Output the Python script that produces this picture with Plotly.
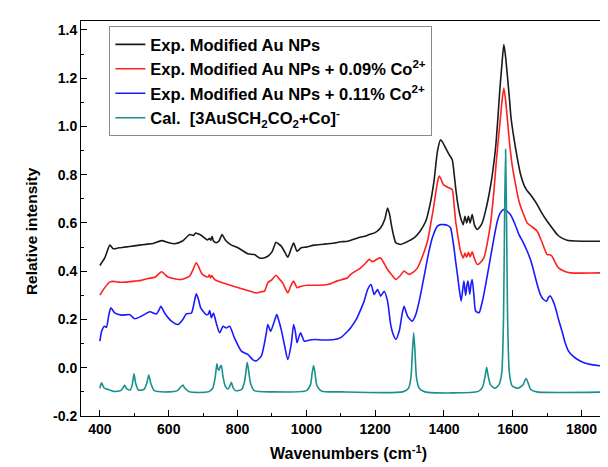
import plotly.graph_objects as go

# ---------------- data ----------------
wn_black = [400, 414, 429, 439, 455, 472, 500, 530, 555, 579, 600, 617, 640, 661, 672, 678, 685, 695, 704, 712,
            719, 722, 726, 730, 738, 746, 755, 761, 767, 780, 801, 815, 830, 849, 864, 876, 888, 900, 912, 920,
            927, 937, 946, 955, 963, 973, 985, 1000, 1023, 1050, 1081, 1100, 1120, 1149, 1170, 1183, 1200, 1216,
            1228, 1236, 1242, 1247, 1254, 1260, 1274, 1290, 1313, 1330, 1347, 1360, 1371, 1381, 1390, 1396, 1402,
            1415, 1424, 1429, 1434, 1440, 1446, 1452, 1456, 1461, 1466, 1471, 1476, 1482, 1489, 1497, 1505, 1511,
            1520, 1531, 1541, 1550, 1556, 1562, 1568, 1574, 1579, 1584, 1590, 1595, 1604, 1613, 1622, 1632, 1641,
            1651, 1661, 1671, 1685, 1700, 1715, 1729, 1743, 1758, 1780, 1816, 1860, 1900]
int_black = [0.424, 0.455, 0.508, 0.493, 0.497, 0.500, 0.505, 0.511, 0.515, 0.527, 0.518, 0.514, 0.525, 0.552,
             0.548, 0.558, 0.555, 0.548, 0.538, 0.530, 0.536, 0.528, 0.545, 0.525, 0.518, 0.525, 0.552, 0.538,
             0.525, 0.510, 0.497, 0.485, 0.472, 0.469, 0.455, 0.455, 0.462, 0.480, 0.520, 0.512, 0.504, 0.480,
             0.458, 0.490, 0.517, 0.483, 0.497, 0.500, 0.508, 0.512, 0.517, 0.522, 0.524, 0.538, 0.545, 0.552,
             0.560, 0.580, 0.615, 0.662, 0.635, 0.593, 0.545, 0.518, 0.511, 0.520, 0.538, 0.565, 0.607, 0.680,
             0.773, 0.897, 0.945, 0.935, 0.918, 0.883, 0.862, 0.810, 0.745, 0.680, 0.635, 0.605, 0.593, 0.628,
             0.600, 0.628, 0.600, 0.635, 0.590, 0.573, 0.585, 0.600, 0.645, 0.718, 0.805, 0.911, 1.020, 1.145,
             1.250, 1.339, 1.290, 1.215, 1.120, 1.035, 0.945, 0.870, 0.805, 0.759, 0.735, 0.718, 0.698, 0.676,
             0.640, 0.607, 0.578, 0.552, 0.537, 0.528, 0.525, 0.524, 0.524, 0.524]

wn_red = [400, 414, 429, 440, 453, 475, 501, 520, 540, 560, 579, 590, 598, 620, 637, 650, 661, 670, 680, 687,
          695, 705, 714, 718, 721, 725, 733, 750, 772, 795, 820, 840, 854, 870, 878, 888, 900, 912, 920, 931,
          940, 946, 955, 963, 973, 985, 1004, 1030, 1062, 1090, 1120, 1129, 1158, 1170, 1183, 1190, 1197, 1205,
          1216, 1226, 1236, 1248, 1260, 1272, 1284, 1292, 1299, 1310, 1323, 1337, 1352, 1362, 1371, 1380, 1386,
          1392, 1398, 1406, 1415, 1424, 1429, 1434, 1440, 1446, 1451, 1456, 1461, 1466, 1471, 1476, 1482, 1489,
          1497, 1505, 1516, 1525, 1535, 1545, 1553, 1559, 1564, 1569, 1574, 1579, 1584, 1590, 1598, 1608, 1618,
          1630, 1642, 1655, 1671, 1685, 1700, 1708, 1714, 1722, 1733, 1750, 1767, 1800, 1850, 1900]
int_red = [0.301, 0.332, 0.356, 0.358, 0.355, 0.355, 0.359, 0.362, 0.370, 0.375, 0.398, 0.385, 0.376, 0.368,
           0.366, 0.372, 0.380, 0.405, 0.435, 0.418, 0.393, 0.380, 0.376, 0.385, 0.372, 0.382, 0.366, 0.355,
           0.345, 0.335, 0.324, 0.316, 0.310, 0.315, 0.317, 0.352, 0.365, 0.383, 0.370, 0.352, 0.325, 0.310,
           0.340, 0.359, 0.332, 0.338, 0.342, 0.342, 0.345, 0.360, 0.373, 0.387, 0.414, 0.430, 0.449, 0.440,
           0.442, 0.450, 0.455, 0.432, 0.407, 0.385, 0.366, 0.380, 0.401, 0.392, 0.387, 0.395, 0.414, 0.460,
           0.524, 0.600, 0.676, 0.760, 0.794, 0.780, 0.759, 0.752, 0.745, 0.738, 0.680, 0.607, 0.550, 0.497,
           0.470, 0.455, 0.475, 0.458, 0.478, 0.460, 0.480, 0.450, 0.428, 0.435, 0.455, 0.510, 0.593, 0.730,
           0.869, 0.960, 1.035, 1.110, 1.159, 1.110, 1.035, 0.940, 0.842, 0.760, 0.690, 0.640, 0.600, 0.585,
           0.566, 0.520, 0.469, 0.468, 0.462, 0.440, 0.414, 0.400, 0.393, 0.392, 0.393, 0.393]

wn_blue = [400, 405, 413, 419, 426, 432, 443, 463, 487, 501, 521, 545, 564, 572, 577, 588, 608, 627, 641, 651,
           666, 674, 680, 686, 693, 709, 715, 719, 724, 730, 738, 748, 758, 767, 777, 791, 811, 830, 844, 854,
           869, 878, 883, 888, 896, 907, 914, 920, 927, 936, 946, 956, 963, 968, 973, 983, 994, 1010, 1023,
           1050, 1081, 1100, 1120, 1129, 1145, 1158, 1168, 1178, 1188, 1197, 1207, 1216, 1226, 1236, 1245, 1252,
           1260, 1270, 1278, 1284, 1294, 1308, 1318, 1328, 1337, 1347, 1356, 1366, 1381, 1390, 1400, 1410, 1419,
           1424, 1429, 1434, 1439, 1445, 1450, 1455, 1458, 1463, 1467, 1470, 1475, 1479, 1482, 1487, 1492, 1502,
           1509, 1516, 1525, 1535, 1545, 1555, 1563, 1572, 1582, 1593, 1605, 1618, 1630, 1642, 1652, 1661, 1670,
           1680, 1688, 1698, 1704, 1709, 1716, 1724, 1733, 1743, 1752, 1762, 1775, 1787, 1805, 1825, 1864, 1900]
int_blue = [0.110, 0.151, 0.172, 0.168, 0.220, 0.248, 0.227, 0.218, 0.220, 0.203, 0.214, 0.232, 0.223, 0.240,
            0.255, 0.227, 0.193, 0.179, 0.200, 0.223, 0.227, 0.270, 0.306, 0.285, 0.248, 0.220, 0.222, 0.237,
            0.207, 0.227, 0.186, 0.145, 0.172, 0.165, 0.172, 0.124, 0.069, 0.055, 0.034, 0.028, 0.048, 0.100,
            0.138, 0.179, 0.151, 0.193, 0.220, 0.195, 0.158, 0.097, 0.034, 0.097, 0.179, 0.150, 0.104, 0.145,
            0.110, 0.115, 0.117, 0.115, 0.117, 0.125, 0.151, 0.166, 0.200, 0.241, 0.276, 0.324, 0.345, 0.304,
            0.324, 0.297, 0.317, 0.276, 0.180, 0.140, 0.118, 0.152, 0.220, 0.255, 0.214, 0.193, 0.220, 0.276,
            0.340, 0.414, 0.480, 0.538, 0.587, 0.593, 0.593, 0.590, 0.580, 0.545, 0.497, 0.440, 0.387, 0.320,
            0.276, 0.330, 0.359, 0.300, 0.345, 0.359, 0.305, 0.350, 0.366, 0.300, 0.235, 0.228, 0.260, 0.304,
            0.375, 0.455, 0.535, 0.607, 0.640, 0.655, 0.650, 0.635, 0.600, 0.552, 0.520, 0.483, 0.445, 0.400,
            0.350, 0.304, 0.285, 0.276, 0.292, 0.297, 0.280, 0.249, 0.200, 0.152, 0.105, 0.069, 0.048, 0.035,
            0.022, 0.014, 0.007, 0.007]

wn_calc = [400, 403, 405, 408, 413, 424, 440, 460, 466, 472, 478, 488, 494, 499, 504, 512, 528, 536, 542, 548,
           558, 600, 625, 635, 641, 647, 660, 715, 728, 735, 740, 743, 746, 750, 753, 757, 764, 772, 778, 782,
           787, 795, 812, 820, 825, 828, 832, 838, 849, 900, 1000, 1012, 1017, 1021, 1025, 1031, 1045, 1100,
           1280, 1297, 1304, 1308, 1312, 1316, 1320, 1328, 1345, 1500, 1512, 1519, 1524, 1528, 1535, 1548, 1560,
           1568, 1573, 1576, 1579, 1582, 1585, 1590, 1598, 1615, 1630, 1636, 1639, 1644, 1652, 1670, 1900]
int_calc = [-0.085, -0.068, -0.062, -0.072, -0.085, -0.090, -0.098, -0.095, -0.085, -0.073, -0.088, -0.092,
            -0.070, -0.025, -0.065, -0.092, -0.090, -0.065, -0.030, -0.065, -0.095, -0.100, -0.095, -0.080,
            -0.072, -0.085, -0.100, -0.100, -0.085, -0.040, 0.016, -0.005, -0.010, 0.005, 0.009, -0.030,
            -0.075, -0.088, -0.075, -0.060, -0.082, -0.095, -0.090, -0.060, -0.010, 0.023, -0.010, -0.065,
            -0.095, -0.100, -0.095, -0.070, -0.020, 0.009, -0.020, -0.075, -0.097, -0.100, -0.100, -0.085,
            -0.040, 0.060, 0.145, 0.060, -0.040, -0.085, -0.100, -0.098, -0.080, -0.040, 0.002, -0.030, -0.070,
            -0.085, -0.070, -0.020, 0.200, 0.600, 0.905, 0.600, 0.200, -0.020, -0.075, -0.085, -0.070, -0.050,
            -0.045, -0.060, -0.090, -0.100, -0.100]

names = [
    "Exp. Modified Au NPs",
    "Exp. Modified Au NPs + 0.09% Co<sup>2+</sup>",
    "Exp. Modified Au NPs + 0.11% Co<sup>2+</sup>",
    "Cal.  [3AuSCH<sub>2</sub>CO<sub>2</sub>+Co]<sup>-</sup>",
]
colors = ["#1a1a1a", "#ff2020", "#1a1aff", "#1a9090"]

x_ticks = [400, 600, 800, 1000, 1200, 1400, 1600, 1800]
y_ticks = [-0.2, 0.0, 0.2, 0.4, 0.6, 0.8, 1.0, 1.2, 1.4]

# ---------------- figure ----------------
fig = go.Figure()
series = [(wn_black, int_black), (wn_red, int_red), (wn_blue, int_blue), (wn_calc, int_calc)]
for (xs, ys), nm, c in zip(series, names, colors):
    fig.add_trace(go.Scatter(x=xs, y=ys, mode="lines", name=nm,
                             line=dict(color=c, width=1.6, shape="spline", smoothing=0.6)))

font_family = "Liberation Sans, Arial, sans-serif"
fig.update_layout(
    width=608, height=467,
    margin=dict(l=73, r=0, t=13, b=59),
    paper_bgcolor="white", plot_bgcolor="white",
    font=dict(family=font_family, color="black", size=13, weight="bold"),
    showlegend=True,
    legend=dict(
        x=0.053, y=0.987, xanchor="left", yanchor="top",
        bgcolor="white", bordercolor="#8a8a8a", borderwidth=1,
        font=dict(family=font_family, size=16.5, color="black", weight="bold"),
        tracegroupgap=0, itemwidth=30,
    ),
    xaxis=dict(
        range=[345, 1900], tickvals=x_ticks, ticktext=[str(v) for v in x_ticks],
        ticks="inside", ticklen=6, tickwidth=1, tickcolor="black",
        minor=dict(dtick=100, tick0=0, ticks="inside", ticklen=3, tickcolor="black"),
        showline=True, linecolor="black", linewidth=1, mirror=True,
        showgrid=False, zeroline=False,
        tickfont=dict(size=14, weight="bold"),
        title=dict(text="Wavenumbers (cm<sup>-1</sup>)", font=dict(size=16, weight="bold"), standoff=12),
    ),
    yaxis=dict(
        range=[-0.2, 1.437], tickvals=y_ticks, ticktext=["%.1f" % v for v in y_ticks],
        ticks="inside", ticklen=6, tickwidth=1, tickcolor="black",
        minor=dict(dtick=0.1, tick0=0, ticks="inside", ticklen=3, tickcolor="black"),
        showline=True, linecolor="black", linewidth=1, mirror=False,
        showgrid=False, zeroline=False,
        tickfont=dict(size=14, weight="bold"),
    ),
    annotations=[dict(
        text="Relative intensity", textangle=-90, showarrow=False,
        xref="paper", yref="paper", x=-0.0935, y=0.468, xanchor="center", yanchor="middle",
        font=dict(family=font_family, size=15.5, color="black", weight="bold"),
    )],
)

fig.write_html("out.html")
